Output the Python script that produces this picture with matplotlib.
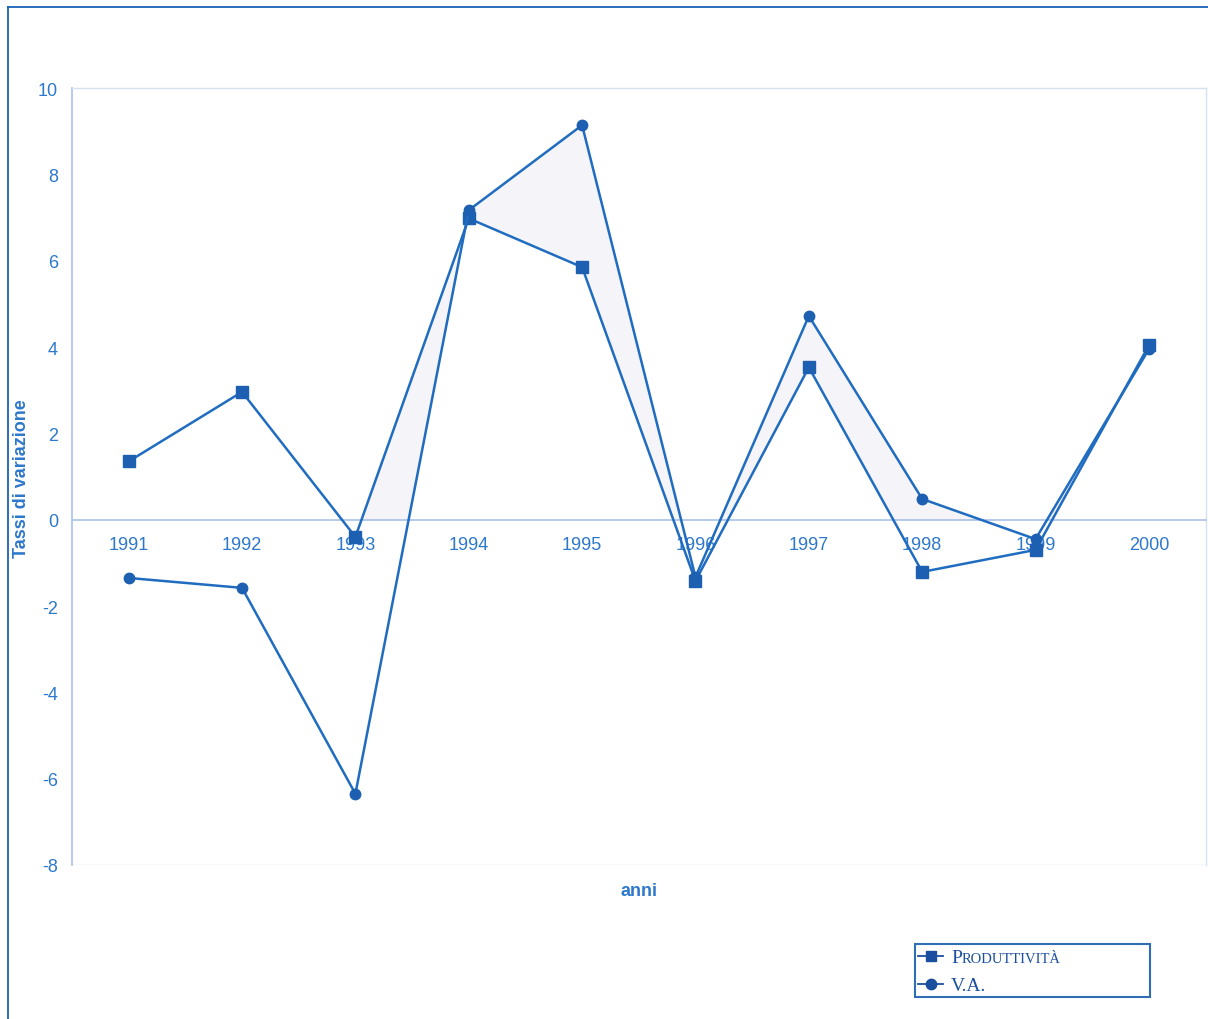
import matplotlib.pyplot as plt
from matplotlib.patches import Rectangle
from matplotlib.lines import Line2D

anni = [1991, 1992, 1993, 1994, 1995, 1996, 1997, 1998, 1999, 2000]
produttivita = [1.35, 2.96, -0.40, 6.98, 5.85, -1.42, 3.53, -1.21, -0.70, 4.04]
va = [-1.35, -1.58, -6.35, 7.17, 9.14, -1.33, 4.72, 0.48, -0.45, 3.95]
yticks = [-8, -6, -4, -2, 0, 2, 4, 6, 8, 10]

plt.rcParams['axes.unicode_minus'] = False
plt.rcParams['font.family'] = ['Liberation Sans', 'DejaVu Sans']

blu_linea = '#1f6cc0'
blu_testo = '#2d78cc'
blu_asse = '#a9c2e6'

fig = plt.figure(figsize=(12.08, 10.2), dpi=100)
ax = fig.add_axes([0.0596, 0.151, 0.9384, 0.7617])

# zona ombreggiata tra le due serie (solo sopra lo zero, dal 1993)
riemp = ax.fill_between(anni[2:], produttivita[2:], va[2:], color='#f5f4f8',
                        lw=0, interpolate=True, zorder=1)
riemp.set_clip_path(Rectangle((1990.5, 0), 10, 10, transform=ax.transData))

ax.plot(anni, produttivita, color=blu_linea, lw=1.8, marker='s', ms=9,
        mfc='#1d5fb0', mec='#1d5fb0', zorder=3)
ax.plot(anni, va, color=blu_linea, lw=1.8, marker='o', ms=7.5,
        mfc='#1d5fb0', mec='#1d5fb0', zorder=3)

ax.set_xlim(1990.5, 2000.5)
ax.set_ylim(-8, 10)
ax.set_yticks(yticks)
ax.set_xticks(anni)
ax.spines['bottom'].set_position(('data', 0))
for s in ['left', 'bottom']:
    ax.spines[s].set_color(blu_asse)
    ax.spines[s].set_linewidth(1.2)
for s in ['top', 'right']:
    ax.spines[s].set_color('#d6e2f2')
    ax.spines[s].set_linewidth(1.0)
ax.axhline(-8, color='#d6e2f2', lw=1.0, zorder=0)
ax.tick_params(axis='both', length=0, labelsize=13, labelcolor=blu_testo)
ax.tick_params(axis='y', pad=10)
ax.tick_params(axis='x', pad=12)

fig.text(0.018, 0.531, 'Tassi di variazione', rotation=90, ha='center', va='center',
         fontsize=13, fontweight='bold', color=blu_testo)
fig.text(0.529, 0.126, 'anni', ha='center', va='center',
         fontsize=13, fontweight='bold', color=blu_testo)

# cornice esterna
fig.add_artist(Line2D([8 / 1208, 8 / 1208], [0, 1 - 8 / 1020], color='#1a62b8', lw=1.3))
fig.add_artist(Line2D([8 / 1208, 1], [1 - 8 / 1020, 1 - 8 / 1020], color='#1a62b8', lw=1.3))

# legenda disegnata a mano (maiuscoletto)
fig.add_artist(Rectangle((915 / 1208, 1 - 998 / 1020), 235 / 1208, 53 / 1020,
                         transform=fig.transFigure, fill=False, ec='#2f6db5', lw=1.5))
serif = ['Liberation Serif', 'DejaVu Serif']
blu_leg = '#1a4fa0'
for yy, mk, ms in [(957, 's', 7.5), (985, 'o', 7.5)]:
    fig.add_artist(Line2D([918 / 1208, 943 / 1208], [1 - yy / 1020] * 2, color=blu_leg, lw=1.3))
    fig.add_artist(Line2D([931 / 1208], [1 - yy / 1020], marker=mk, ms=ms,
                          color=blu_leg, ls='none'))

t1 = fig.text(951 / 1208, 1 - 963 / 1020, 'P', fontsize=14, family=serif,
              color=blu_leg, va='baseline')
fig.text(951 / 1208, 1 - 991 / 1020, 'V.A.', fontsize=14, family=serif,
         color=blu_leg, va='baseline')
fig.canvas.draw()
bb = t1.get_window_extent()
x2 = bb.x1 / fig.bbox.width
fig.text(x2, 1 - 963 / 1020, 'RODUTTIVITÀ', fontsize=10.5, family=serif,
         color=blu_leg, va='baseline')

fig.savefig('out.png', dpi=100)
